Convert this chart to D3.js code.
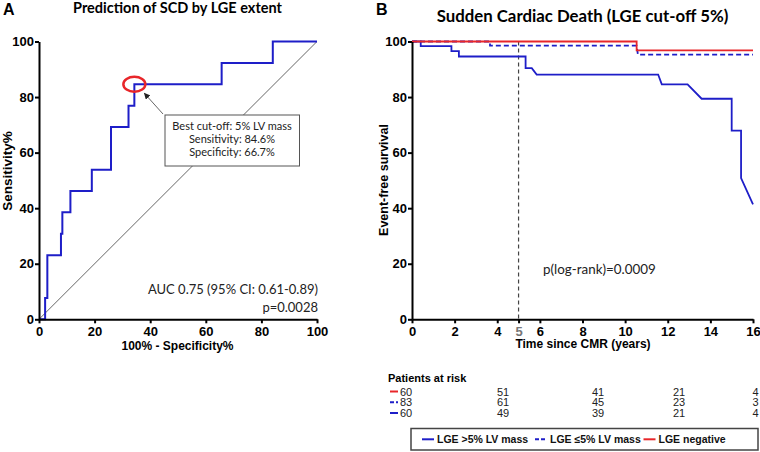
<!DOCTYPE html>
<html>
<head>
<meta charset="utf-8">
<script src="https://cdn.jsdelivr.net/npm/d3@7"></script>
<style>
  body { margin: 0; background: #fff; }
  svg { display: block; }
  .axis path, .axis line { stroke: #000; }
  .axis text { font-family: "Liberation Sans", Arial, sans-serif; font-weight: bold; font-size: 13px; fill: #000; }
</style>
</head>
<body>
<svg id="chart" width="760" height="452"></svg>
<script>
// ROC curve (panel A): 100% - specificity vs sensitivity, step vertices
const rocFpr  = [0, 2.2, 2.2, 3, 3, 7.9, 7.9, 8.4, 8.4, 11.3, 11.3, 19.0, 19.0, 25.9, 25.9, 32.2, 32.2, 34.3, 34.3, 65.7, 65.7, 84.1, 84.1, 100];
const rocSens = [0, 0, 7.7, 7.7, 23.1, 23.1, 30.8, 30.8, 38.5, 38.5, 46.2, 46.2, 53.8, 53.8, 69.2, 69.2, 76.9, 76.9, 84.6, 84.6, 92.3, 92.3, 100, 100];
const bestCutoff = [34.3, 84.6];
const boxLines = ["Best cut-off: 5% LV mass", "Sensitivity: 84.6%", "Specificity: 66.7%"];

// Kaplan-Meier curves (panel B)
const highTime = [0, 0.41, 0.41, 1.85, 1.85, 2.2, 2.2, 5.33, 5.33, 5.62, 5.85, 11.55, 11.72, 12.93, 13.59, 15.0, 15.0, 15.44, 15.44, 16.0];
const highSurv = [100, 100, 98.3, 98.3, 96.5, 96.5, 94.6, 94.6, 90.4, 90.4, 88.1, 88.1, 84.6, 84.6, 79.4, 79.4, 67.9, 67.9, 50.8, 41.4];
const lowTime  = [0, 3.66, 3.66, 10.54, 10.6, 16];
const lowSurv  = [100, 100, 98.5, 98.5, 95.3, 95.3];
const negTime  = [0, 10.54, 10.54, 16];
const negSurv  = [100, 100, 96.8, 96.8];

const riskTimes = [0, 4, 8, 12, 16];
const riskNeg  = [60, 51, 41, 21, 4];
const riskLow  = [83, 61, 45, 23, 3];
const riskHigh = [60, 49, 39, 21, 4];

const kmTicks = [0, 2, 4, 5, 6, 8, 10, 12, 14, 16];

const BLUE = "#1e1ec8", RED = "#e8262a";
const CAL = "Lato, 'Open Sans', sans-serif";
const ARIAL = "'Liberation Sans', Arial, sans-serif";

const svg = d3.select("#chart");

// ---------- Panel A ----------
const xA = d3.scaleLinear().domain([0, 100]).range([39, 317]);
const yA = d3.scaleLinear().domain([0, 100]).range([319.3, 41.5]);

svg.append("text").attr("x", 3).attr("y", 15)
  .style("font", `bold 16px ${ARIAL}`).text("A");
svg.append("text").attr("x", 177.5).attr("y", 13).attr("text-anchor", "middle")
  .style("font", `bold 14.5px ${CAL}`).text("Prediction of SCD by LGE extent");

// diagonal reference
svg.append("line")
  .attr("x1", xA(0)).attr("y1", yA(0)).attr("x2", xA(100)).attr("y2", yA(100))
  .attr("stroke", "#555").attr("stroke-width", 0.9);

svg.append("path")
  .datum(d3.zip(rocFpr, rocSens))
  .attr("fill", "none").attr("stroke", BLUE).attr("stroke-width", 2)
  .attr("d", d3.line().x(d => xA(d[0])).y(d => yA(d[1])));

svg.append("ellipse")
  .attr("cx", xA(bestCutoff[0])).attr("cy", yA(bestCutoff[1]))
  .attr("rx", 11).attr("ry", 7.5)
  .attr("fill", "none").attr("stroke", RED).attr("stroke-width", 2.5);

// arrow from box to the cut-off point
const defs = svg.append("defs");
defs.append("marker").attr("id", "arr").attr("viewBox", "0 0 10 10")
  .attr("refX", 9).attr("refY", 5).attr("markerWidth", 7).attr("markerHeight", 7)
  .attr("orient", "auto")
  .append("path").attr("d", "M0,0 L10,5 L0,10 z").attr("fill", "#222");
svg.append("line")
  .attr("x1", 163).attr("y1", 114).attr("x2", xA(bestCutoff[0]) + 10).attr("y2", yA(bestCutoff[1]) + 9)
  .attr("stroke", "#555").attr("stroke-width", 0.9).attr("marker-end", "url(#arr)");

const box = svg.append("g");
box.append("rect").attr("x", 165).attr("y", 115).attr("width", 134.5).attr("height", 51)
  .attr("fill", "#fff").attr("stroke", "#555").attr("stroke-width", 1);
box.selectAll("text").data(boxLines).join("text")
  .attr("x", 232).attr("y", (d, i) => 129.5 + i * 13.4)
  .attr("text-anchor", "middle")
  .style("font", `11px ${CAL}`).style("fill", "#222")
  .text(d => d);

svg.append("text").attr("x", 318).attr("y", 294).attr("text-anchor", "end")
  .style("font", `13px ${CAL}`).style("fill", "#222").text("AUC 0.75 (95% CI: 0.61-0.89)");
svg.append("text").attr("x", 318).attr("y", 311.5).attr("text-anchor", "end")
  .style("font", `13px ${CAL}`).style("fill", "#222").text("p=0.0028");

svg.append("g").attr("class", "axis").attr("transform", `translate(0,${yA(0)})`)
  .call(d3.axisBottom(xA).tickValues(d3.range(0, 101, 20)).tickSize(4).tickPadding(3).tickSizeOuter(0))
  .call(g => g.selectAll("path, line").attr("stroke-width", 2));
svg.append("g").attr("class", "axis").attr("transform", `translate(${xA(0)},0)`)
  .call(d3.axisLeft(yA).tickValues(d3.range(0, 101, 20)).tickSize(4).tickPadding(1).tickSizeOuter(0))
  .call(g => g.selectAll("path, line").attr("stroke-width", 2));

svg.append("text").attr("x", 177.5).attr("y", 350).attr("text-anchor", "middle")
  .style("font", `bold 12px ${ARIAL}`).text("100% - Specificity%");
svg.append("text").attr("transform", "translate(12,171) rotate(-90)").attr("text-anchor", "middle")
  .style("font", `bold 13.5px ${ARIAL}`).text("Sensitivity%");

// ---------- Panel B ----------
const xB = d3.scaleLinear().domain([0, 16]).range([412, 753]);
const yB = d3.scaleLinear().domain([0, 100]).range([319.3, 41.5]);

svg.append("text").attr("x", 376).attr("y", 15)
  .style("font", `bold 16px ${ARIAL}`).text("B");
svg.append("text").attr("x", 582.5).attr("y", 22).attr("text-anchor", "middle")
  .style("font", `bold 16.8px ${CAL}`).text("Sudden Cardiac Death (LGE cut-off 5%)");

svg.append("line")
  .attr("x1", xB(5)).attr("x2", xB(5)).attr("y1", yB(100)).attr("y2", yB(0))
  .attr("stroke", "#444").attr("stroke-width", 1.2).attr("stroke-dasharray", "4,3");

const kmLine = d3.line().x(d => xB(d[0])).y(d => yB(d[1]));
svg.append("path").datum(d3.zip(highTime, highSurv))
  .attr("fill", "none").attr("stroke", BLUE).attr("stroke-width", 1.8).attr("d", kmLine);
svg.append("path").datum(d3.zip(lowTime, lowSurv))
  .attr("fill", "none").attr("stroke", BLUE).attr("stroke-width", 1.8)
  .attr("stroke-dasharray", "5,3").attr("d", kmLine);
svg.append("path").datum(d3.zip(negTime, negSurv))
  .attr("fill", "none").attr("stroke", RED).attr("stroke-width", 1.8).attr("d", kmLine);

svg.append("text").attr("x", 543).attr("y", 274)
  .style("font", `13.4px ${CAL}`).style("fill", "#222").text("p(log-rank)=0.0009");

svg.append("g").attr("class", "axis").attr("transform", `translate(0,${yB(0)})`)
  .call(d3.axisBottom(xB).tickValues(kmTicks).tickFormat(d3.format("d")).tickSize(4).tickPadding(3).tickSizeOuter(0))
  .call(g => g.selectAll("path, line").attr("stroke-width", 2))
  .call(g => g.selectAll(".tick text").filter(d => d === 5).style("fill", "#777"));
svg.append("g").attr("class", "axis").attr("transform", `translate(${xB(0)},0)`)
  .call(d3.axisLeft(yB).tickValues(d3.range(0, 101, 20)).tickSize(4).tickPadding(1).tickSizeOuter(0))
  .call(g => g.selectAll("path, line").attr("stroke-width", 2));

svg.append("text").attr("x", 583).attr("y", 348).attr("text-anchor", "middle")
  .style("font", `bold 12px ${ARIAL}`).text("Time since CMR (years)");
svg.append("text").attr("transform", "translate(388,180) rotate(-90)").attr("text-anchor", "middle")
  .style("font", `bold 12.5px ${ARIAL}`).text("Event-free survival");

// ---------- Patients at risk ----------
const colX = d3.scaleLinear().domain(riskTimes).range([406, 503, 598, 679, 755.5]);
const rowY = d3.scalePoint().domain(["neg", "low", "high"]).range([395.5, 417]);
const riskRows = [
  { key: "neg", color: RED, dash: null, values: riskNeg },
  { key: "low", color: BLUE, dash: "4,2", values: riskLow },
  { key: "high", color: BLUE, dash: null, values: riskHigh }
];

svg.append("text").attr("x", 388).attr("y", 382)
  .style("font", `bold 11px ${ARIAL}`).text("Patients at risk");

const rows = svg.append("g").selectAll("g").data(riskRows).join("g");
rows.append("line")
  .attr("x1", 390).attr("x2", 398)
  .attr("y1", d => rowY(d.key) - 4).attr("y2", d => rowY(d.key) - 4)
  .attr("stroke", d => d.color).attr("stroke-width", 2)
  .attr("stroke-dasharray", d => d.dash);
rows.selectAll("text").data(d => d.values.map((v, i) => ({ v, t: riskTimes[i], key: d.key }))).join("text")
  .attr("x", d => colX(d.t)).attr("y", d => rowY(d.key))
  .attr("text-anchor", "middle")
  .style("font", `11px ${ARIAL}`).style("fill", "#222")
  .text(d => d.v);

// ---------- Legend ----------
const legendItems = [
  { label: "LGE >5% LV mass", color: BLUE, dash: null, x: 422 },
  { label: "LGE \u22645% LV mass", color: BLUE, dash: "4,2", x: 535 },
  { label: "LGE negative", color: RED, dash: null, x: 643.5 }
];
svg.append("rect").attr("x", 411).attr("y", 428.5).attr("width", 347).attr("height", 21.5)
  .attr("fill", "#fff").attr("stroke", "#444").attr("stroke-width", 1.5);
const leg = svg.append("g").selectAll("g").data(legendItems).join("g");
leg.append("line")
  .attr("x1", d => d.x).attr("x2", d => d.x + 12).attr("y1", 439.3).attr("y2", 439.3)
  .attr("stroke", d => d.color).attr("stroke-width", 2).attr("stroke-dasharray", d => d.dash);
leg.append("text").attr("x", d => d.x + 15).attr("y", 443)
  .style("font", `bold 10.5px ${ARIAL}`).style("fill", "#111")
  .text(d => d.label);
</script>
</body>
</html>
